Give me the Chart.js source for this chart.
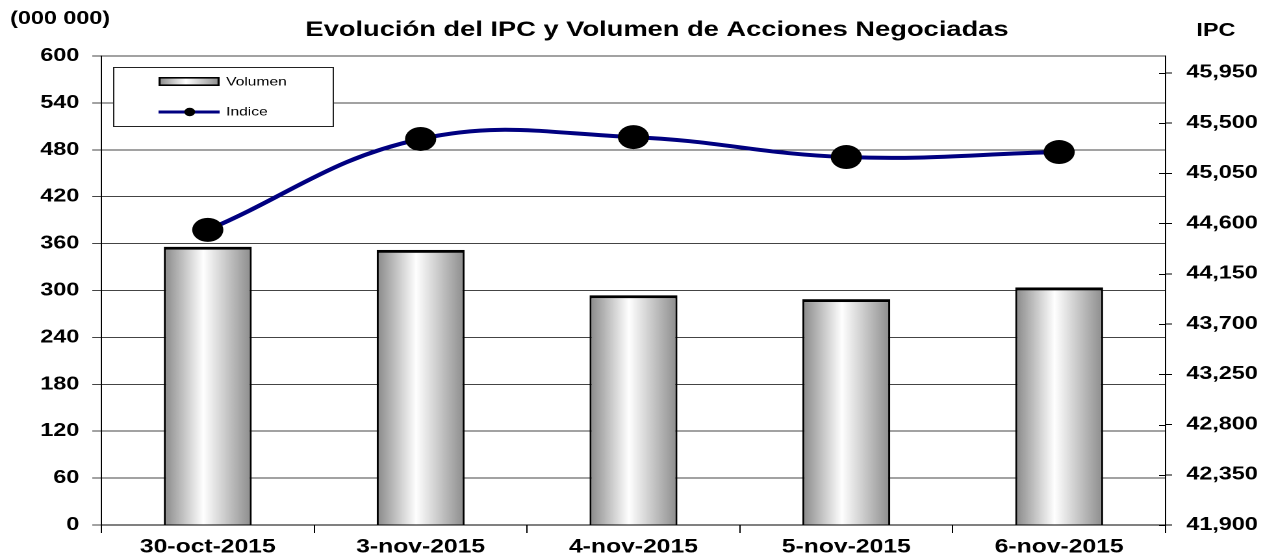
<!DOCTYPE html>
<html>
<head>
<meta charset="utf-8">
<script src="https://cdn.jsdelivr.net/npm/chart.js@4.4.1/dist/chart.umd.min.js"></script>
<style>
  html, body { margin: 0; padding: 0; background: #fff; overflow: hidden; }
  /* la figura original viene estirada a lo ancho */
  #wrap { width: 972px; height: 558px; transform: scaleX(1.2994); transform-origin: 0 0; }
</style>
</head>
<body>
<div id="wrap"><canvas id="chartIPC"></canvas></div>
<script>
let fechas = ["30-oct-2015", "3-nov-2015", "4-nov-2015", "5-nov-2015", "6-nov-2015"];
let volumen = [356, 352, 294, 289, 304];
let indice = [44543, 45357, 45374, 45195, 45240];

let ticksVolumen = [0, 60, 120, 180, 240, 300, 360, 420, 480, 540, 600];
let ticksIPC = [41900, 42350, 42800, 43250, 43700, 44150, 44600, 45050, 45500, 45950];

let titulo = "Evolución del IPC y Volumen de Acciones Negociadas";
let tituloIzq = "(000 000)";
let tituloDer = "IPC";

const fuente = "'Liberation Sans', Arial, sans-serif";
const azul = "#000080";

function gradienteBarra(ctx, x0, x1) {
  let g = ctx.createLinearGradient(x0, 0, x1, 0);
  g.addColorStop(0, "#888888");
  g.addColorStop(0.45, "#ffffff");
  g.addColorStop(1, "#8c8c8c");
  return g;
}

const anchoBarra = 0.413;

// textos de la figura y leyenda
const pluginTextos = {
  id: "textos",
  afterDatasetsDraw(chart) {
    let ctx = chart.ctx;
    ctx.save();
    // caja de leyenda
    ctx.fillStyle = "#fff";
    ctx.fillRect(87, 67, 169, 59);
    ctx.strokeStyle = "#222";
    ctx.lineWidth = 1;
    ctx.strokeRect(87.5, 67.5, 169, 59);

    ctx.fillStyle = gradienteBarra(ctx, 122, 169);
    ctx.fillRect(122, 77, 47, 9);
    ctx.strokeStyle = "#000";
    ctx.lineWidth = 1.6;
    ctx.strokeRect(122.8, 77.8, 45.4, 7.4);

    ctx.strokeStyle = azul;
    ctx.lineWidth = 3;
    ctx.beginPath();
    ctx.moveTo(122, 112);
    ctx.lineTo(169, 112);
    ctx.stroke();
    ctx.fillStyle = "#000";
    ctx.beginPath();
    ctx.arc(146, 112, 4.2, 0, Math.PI * 2);
    ctx.fill();

    ctx.font = "12px " + fuente;
    ctx.textAlign = "left";
    ctx.textBaseline = "middle";
    ctx.fillText(chart.data.datasets[0].label, 174, 82);
    ctx.fillText(chart.data.datasets[1].label, 174, 112);
    ctx.restore();
  },
  afterDraw(chart) {
    let ctx = chart.ctx;
    ctx.save();
    ctx.fillStyle = "#000";
    ctx.textBaseline = "middle";
    ctx.font = "bold 21px " + fuente;
    ctx.textAlign = "center";
    ctx.fillText(titulo, 505.6, 30);
    ctx.font = "bold 18px " + fuente;
    ctx.textAlign = "left";
    ctx.fillText(tituloIzq, 7.7, 19);
    ctx.textAlign = "center";
    ctx.fillText(tituloDer, 935.7, 31);

    // marcas del eje derecho que cruzan hacia dentro
    let escala = chart.scales.yDer;
    ctx.strokeStyle = "#000";
    ctx.lineWidth = 1;
    escala.ticks.forEach((t) => {
      let y = Math.round(escala.getPixelForValue(t.value)) + 0.5;
      ctx.beginPath();
      ctx.moveTo(escala.left - 5, y);
      ctx.lineTo(escala.left, y);
      ctx.stroke();
    });
    ctx.restore();
  },
};

new Chart(document.getElementById("chartIPC"), {
  type: "bar",
  data: {
    labels: fechas,
    datasets: [
      {
        type: "bar",
        label: "Volumen",
        data: volumen,
        yAxisID: "yIzq",
        order: 2,
        backgroundColor: (c) => {
          let chart = c.chart;
          if (!chart.chartArea) return "#ccc";
          let ejeX = chart.scales.x;
          let cx = ejeX.getPixelForValue(c.dataIndex);
          let w = (ejeX.width / fechas.length) * anchoBarra;
          return gradienteBarra(chart.ctx, cx - w / 2, cx + w / 2);
        },
        borderColor: "#000",
        borderWidth: { top: 3, left: 1.6, right: 1.6, bottom: 0 },
        borderSkipped: false,
        barPercentage: anchoBarra,
        categoryPercentage: 1,
      },
      {
        type: "line",
        label: "Indice",
        data: indice,
        yAxisID: "yDer",
        order: 1,
        borderColor: azul,
        borderWidth: 4,
        tension: 0.4,
        pointRadius: 12,
        pointHoverRadius: 12,
        pointBackgroundColor: "#000",
        pointBorderColor: "#000",
        pointBorderWidth: 0,
      },
    ],
  },
  options: {
    responsive: true,
    maintainAspectRatio: false,
    devicePixelRatio: 2,
    animation: false,
    layout: { padding: { top: 56, left: 0, right: 0, bottom: 0 } },
    plugins: {
      legend: { display: false },
      title: { display: false },
      tooltip: { enabled: false },
    },
    scales: {
      x: {
        offset: true,
        afterFit: (s) => { s.height = 33; },
        grid: {
          offset: true,
          drawOnChartArea: false,
          color: "#000",
          tickLength: 8,
        },
        border: { color: "#000", width: 1 },
        ticks: {
          color: "#000",
          padding: 3,
          maxRotation: 0,
          font: { family: fuente, size: 19, weight: "bold" },
        },
      },
      yIzq: {
        position: "left",
        min: 0,
        max: 600,
        afterFit: (s) => { s.width = 78; },
        afterBuildTicks: (s) => { s.ticks = ticksVolumen.map((v) => ({ value: v })); },
        grid: { color: "#444", tickLength: 7 },
        border: { color: "#000", width: 1 },
        ticks: {
          color: "#000",
          padding: 10,
          font: { family: fuente, size: 18, weight: "bold" },
        },
      },
      yDer: {
        position: "right",
        min: 41900,
        max: 46100,
        afterFit: (s) => { s.width = 75; },
        afterBuildTicks: (s) => { s.ticks = ticksIPC.map((v) => ({ value: v })); },
        grid: { drawOnChartArea: false, color: "#000", tickLength: 5 },
        border: { color: "#000", width: 1 },
        ticks: {
          color: "#000",
          padding: 11,
          callback: (v) => v.toLocaleString("en-US"),
          font: { family: fuente, size: 18, weight: "bold" },
        },
      },
    },
  },
  plugins: [pluginTextos],
});
</script>
</body>
</html>
